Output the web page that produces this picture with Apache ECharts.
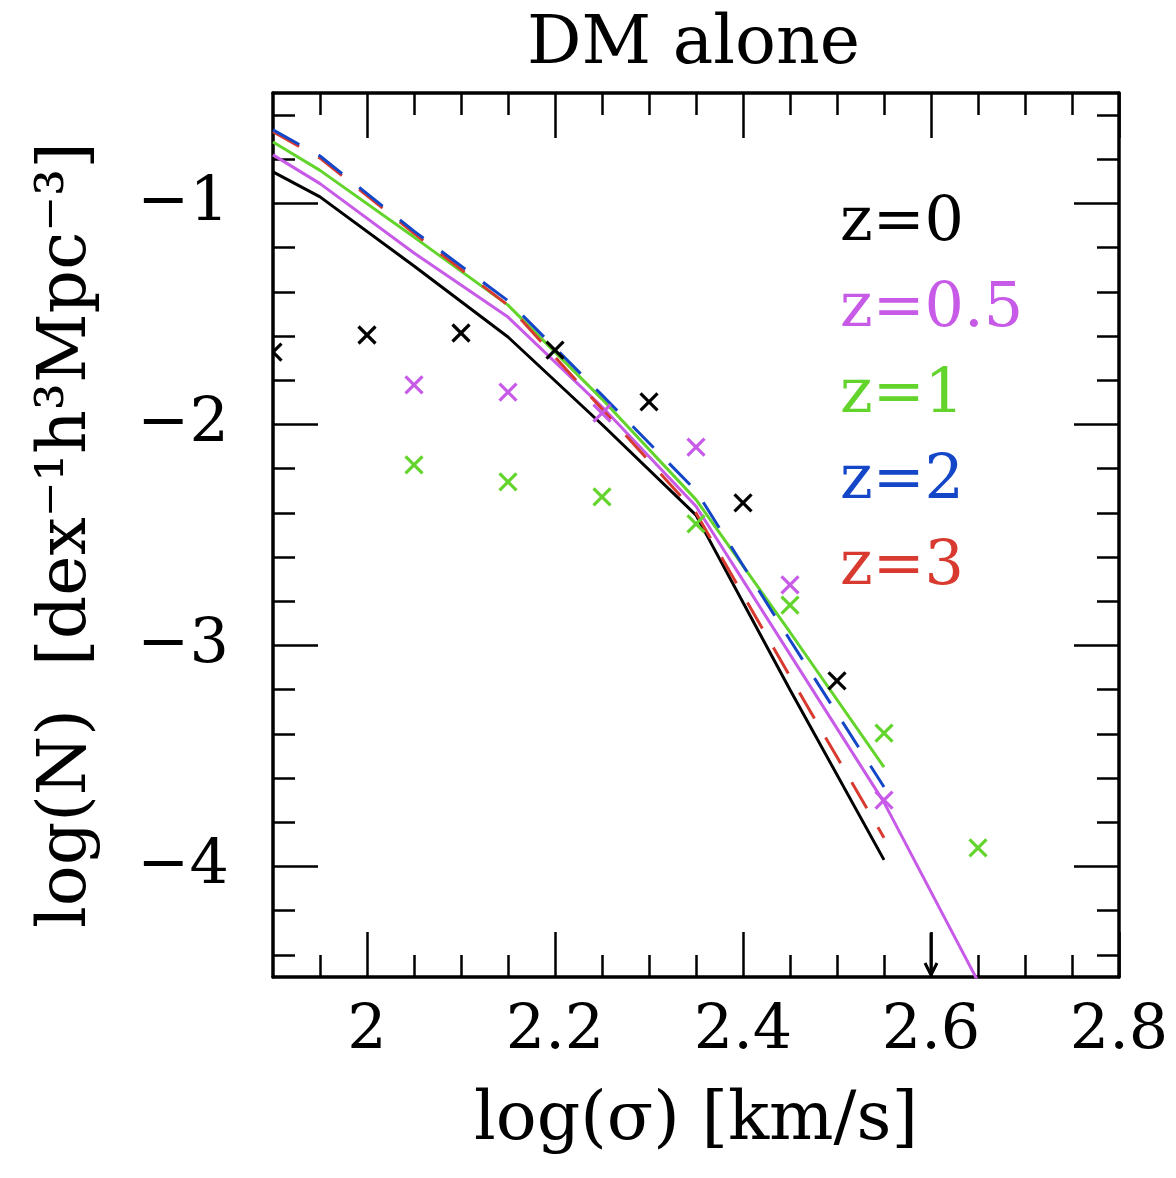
<!DOCTYPE html>
<html>
<head>
<meta charset="utf-8">
<script src="https://cdn.jsdelivr.net/npm/echarts@6/dist/echarts.min.js"></script>
<style>
html,body{margin:0;padding:0;background:#fff;}
#chart{width:1176px;height:1178px;}
</style>
</head>
<body>
<div id="chart"></div>
<script>
// ---- Data ----
const seriesNames = ['z=0', 'z=0.5', 'z=1', 'z=2', 'z=3'];

// model curves (log sigma, log N)
const lineZ0  = [[1.9,-0.857],[1.95,-0.97],[2.05,-1.283],[2.15,-1.604],[2.25,-2.0],[2.35,-2.41],[2.45,-3.20],[2.55,-3.97]];
const lineZ05 = [[1.9,-0.78],[1.95,-0.91],[2.05,-1.224],[2.15,-1.514],[2.25,-1.92],[2.35,-2.37],[2.45,-3.04],[2.55,-3.71],[2.65,-4.52]];
const lineZ1  = [[1.9,-0.722],[1.95,-0.85],[2.05,-1.152],[2.15,-1.46],[2.25,-1.885],[2.35,-2.34],[2.45,-2.94],[2.55,-3.55]];
const lineZ2  = [[1.9,-0.667],[1.95,-0.785],[2.05,-1.125],[2.15,-1.44],[2.25,-1.867],[2.35,-2.30],[2.45,-2.975],[2.55,-3.64]];
const lineZ3  = [[1.9,-0.675],[1.95,-0.795],[2.05,-1.135],[2.15,-1.46],[2.25,-1.93],[2.35,-2.40],[2.45,-3.14],[2.55,-3.87]];

// observed points (crosses)
const obsZ0  = [[1.9,-1.672],[2.0,-1.595],[2.1,-1.586],[2.2,-1.663],[2.3,-1.898],[2.4,-2.355],[2.5,-3.16]];
const obsZ05 = [[2.05,-1.821],[2.15,-1.853],[2.25,-1.948],[2.35,-2.102],[2.45,-2.726],[2.55,-3.70]];
const obsZ1  = [[2.05,-2.183],[2.15,-2.26],[2.25,-2.328],[2.35,-2.45],[2.45,-2.817],[2.55,-3.396],[2.65,-3.916]];
// upper limit (arrow) for z=0
const limZ0  = [[2.6,-4.3]];

// axis ticks
const xMajor = [2, 2.2, 2.4, 2.6, 2.8];
const xMinor = [1.95, 2.05, 2.1, 2.15, 2.25, 2.3, 2.35, 2.45, 2.5, 2.55, 2.65, 2.7, 2.75];
const yMajor = [-4, -3, -2, -1];
const yMinor = [-4.4, -4.2, -3.8, -3.6, -3.4, -3.2, -2.8, -2.6, -2.4, -2.2, -1.8, -1.6, -1.4, -1.2, -0.8, -0.6];

// ---- Styling ----
const colors = ['#000000', '#c85ae8', '#63d42c', '#1446c8', '#d83a30'];
const FONT = 'DejaVu Serif';
const X_MIN = 1.9, X_MAX = 2.8, Y_MIN = -4.5, Y_MAX = -0.5;

const frameLine = {show: true, onZero: false, lineStyle: {color: '#000', width: 3.5}};
const tickStyle = {color: '#000', width: 2.5};

function xAx(pos, ticks, len, withLine, withLabel) {
  const a = {
    type: 'value', min: X_MIN, max: X_MAX, position: pos,
    axisLine: withLine ? frameLine : {show: false},
    axisTick: {show: true, inside: true, length: len, customValues: ticks, lineStyle: tickStyle},
    axisLabel: {show: false},
    splitLine: {show: false}
  };
  if (withLabel) {
    a.axisLabel = {show: true, customValues: xMajor, fontFamily: FONT, fontSize: 62, color: '#000', margin: 24,
      formatter: v => String(v)};
    a.name = 'log(σ) [km/s]';
    a.nameLocation = 'middle';
    a.nameGap = 110;
    a.nameTextStyle = {fontFamily: FONT, fontSize: 68, color: '#000'};
  }
  return a;
}
function yAx(pos, ticks, len, withLine, withLabel) {
  const a = {
    type: 'value', min: Y_MIN, max: Y_MAX, position: pos,
    axisLine: withLine ? frameLine : {show: false},
    axisTick: {show: true, inside: true, length: len, customValues: ticks, lineStyle: tickStyle},
    axisLabel: {show: false},
    splitLine: {show: false}
  };
  if (withLabel) {
    a.axisLabel = {show: true, customValues: yMajor, fontFamily: FONT, fontSize: 62, color: '#000', margin: 44,
      formatter: v => String(v).replace('-', '\u2212')};
    a.name = 'log(N)  [dex\u207B\u00B9h\u00B3Mpc\u207B\u00B3]';
    a.nameLocation = 'middle';
    a.nameRotate = 90;
    a.nameGap = 172;
    a.nameTextStyle = {fontFamily: FONT, fontSize: 68, color: '#000'};
  }
  return a;
}

function lineSeries(i, data, dashed) {
  return {
    type: 'line', name: seriesNames[i], data: data,
    xAxisIndex: 0, yAxisIndex: 0,
    showSymbol: false, symbol: 'none', clip: true,
    lineStyle: {color: colors[i], width: 3, type: dashed ? [30, 22] : 'solid'},
    itemStyle: {color: colors[i]},
    z: 2
  };
}

function crossSeries(i, data) {
  const c = colors[i];
  return {
    type: 'custom', name: seriesNames[i] + ' obs', data: data,
    xAxisIndex: 0, yAxisIndex: 0, clip: true, z: 3,
    encode: {x: 0, y: 1},
    renderItem: function (params, api) {
      const p = api.coord([api.value(0), api.value(1)]);
      const h = 8.5;
      return {type: 'group', children: [
        {type: 'line', shape: {x1: p[0]-h, y1: p[1]-h, x2: p[0]+h, y2: p[1]+h}, style: {stroke: c, lineWidth: 3.2}},
        {type: 'line', shape: {x1: p[0]-h, y1: p[1]+h, x2: p[0]+h, y2: p[1]-h}, style: {stroke: c, lineWidth: 3.2}}
      ]};
    }
  };
}

function arrowSeries(i, data) {
  const c = colors[i];
  return {
    type: 'custom', name: seriesNames[i] + ' limit', data: data,
    xAxisIndex: 0, yAxisIndex: 0, clip: true, z: 3,
    encode: {x: 0, y: 1},
    renderItem: function (params, api) {
      const p = api.coord([api.value(0), api.value(1)]);
      const b = api.coord([api.value(0), Y_MIN]);
      return {type: 'group', children: [
        {type: 'line', shape: {x1: p[0], y1: p[1], x2: b[0], y2: b[1]-2}, style: {stroke: c, lineWidth: 3}},
        {type: 'polyline', shape: {points: [[b[0]-6, b[1]-14], [b[0], b[1]-2], [b[0]+6, b[1]-14]]}, style: {stroke: c, lineWidth: 3, fill: null}}
      ]};
    }
  };
}

const chart = echarts.init(document.getElementById('chart'), null, {renderer: 'canvas'});
chart.setOption({
  animation: false,
  backgroundColor: '#fff',
  title: {
    text: 'DM alone', left: 522, top: 6,
    textStyle: {fontFamily: FONT, fontSize: 68, fontWeight: 'normal', color: '#000'}
  },
  grid: {left: 273, top: 93, width: 846, height: 884, containLabel: false},
  legend: {
    orient: 'vertical', left: 830, top: 188,
    itemWidth: 0, itemHeight: 0, itemGap: 24,
    selectedMode: false,
    data: seriesNames.map((n, i) => ({name: n, icon: 'rect', itemStyle: {opacity: 0}, lineStyle: {opacity: 0},
      textStyle: {color: colors[i], fontFamily: FONT, fontSize: 62, lineHeight: 60}}))
  },
  xAxis: [
    xAx('bottom', xMajor, 45, true, true),
    xAx('top', xMajor, 45, true, false),
    xAx('bottom', xMinor, 22, false, false),
    xAx('top', xMinor, 22, false, false)
  ],
  yAxis: [
    yAx('left', yMajor, 45, true, true),
    yAx('right', yMajor, 45, true, false),
    yAx('left', yMinor, 22, false, false),
    yAx('right', yMinor, 22, false, false)
  ],
  series: [
    lineSeries(0, lineZ0, false),
    lineSeries(1, lineZ05, false),
    lineSeries(2, lineZ1, false),
    lineSeries(4, lineZ3, true),
    lineSeries(3, lineZ2, true),
    crossSeries(0, obsZ0),
    crossSeries(1, obsZ05),
    crossSeries(2, obsZ1),
    arrowSeries(0, limZ0)
  ]
});
</script>
</body>
</html>
